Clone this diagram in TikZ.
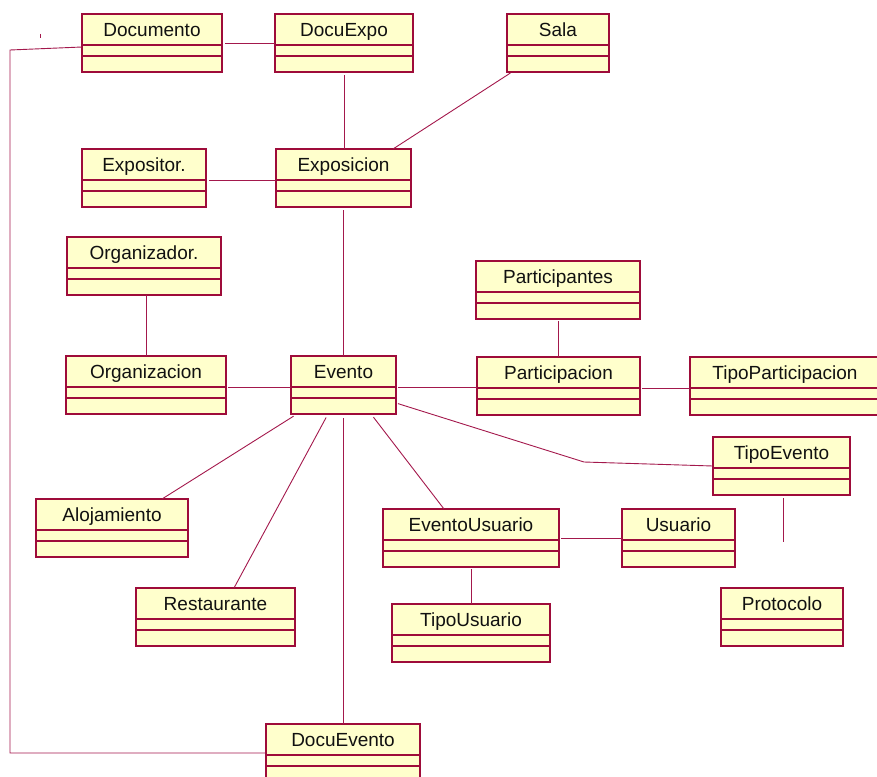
\documentclass[tikz,border=0pt]{standalone}
\usepackage{fontspec}
\setmainfont{Liberation Sans}
\definecolor{clsfill}{HTML}{FFFFCC}
\definecolor{clsborder}{HTML}{9E0C3A}
\definecolor{conncol}{HTML}{A3184C}
\definecolor{txtcol}{HTML}{111111}
\tikzset{
  clsbox/.style={draw=clsborder, fill=clsfill, line width=1.3pt, minimum height=58pt, inner sep=0pt, outer sep=0pt},
  clsline/.style={draw=clsborder, line width=1.1pt},
  clstext/.style={text=txtcol, font=\fontsize{19}{22}\selectfont, inner sep=0pt},
  conn/.style={draw=conncol, line width=0.9pt},
}
\newcommand{\umlcls}[5]{%
  \node[clsbox, minimum width=#4pt, anchor=north west] (#1) at (#2,#3) {};
  \draw[clsline] ([yshift=-31pt]#1.north west) -- ([yshift=-31pt]#1.north east);
  \draw[clsline] ([yshift=-42pt]#1.north west) -- ([yshift=-42pt]#1.north east);
  \node[clstext, anchor=base] (#1-label) at ([yshift=-22.5pt]#1.north) {#5};
}
\begin{document}
\begin{tikzpicture}[x=1pt,y=-1pt]
\useasboundingbox (0,0) rectangle (877,776);
\clip (0,0) rectangle (877,776);
% classes
\umlcls{documento}{82}{14}{140}{Documento}
\umlcls{docuexpo}{275}{14}{138}{DocuExpo}
\umlcls{sala}{507}{14}{102}{Sala}
\umlcls{expositor}{82}{149}{124}{Expositor.}
\umlcls{exposicion}{276}{149}{135}{Exposicion}
\umlcls{organizador}{67}{237}{154}{Organizador.}
\umlcls{organizacion}{66}{356}{160}{Organizacion}
\umlcls{evento}{291}{356}{105}{Evento}
\umlcls{participantes}{476}{261}{164}{Participantes}
\umlcls{participacion}{477}{357}{163}{Participacion}
\umlcls{tipopart}{690}{357}{190}{TipoParticipacion}
\umlcls{tipoevento}{713}{437}{137}{TipoEvento}
\umlcls{alojamiento}{36}{499}{152}{Alojamiento}
\umlcls{eventousuario}{383}{509}{176}{EventoUsuario}
\umlcls{usuario}{622}{509}{113}{Usuario}
\umlcls{restaurante}{136}{588}{159}{Restaurante}
\umlcls{tipousuario}{392}{604}{158}{TipoUsuario}
\umlcls{protocolo}{721}{588}{122}{Protocolo}
\umlcls{docuevento}{266}{724}{154}{DocuEvento}
% connectors
\draw[conn, shorten <=3pt] (documento.east) -- (documento.east -| docuexpo.west);
\coordinate (dl1) at (10,50);
\coordinate (dl2) at (10,753);
\draw[conn] ([yshift=-4pt]documento.west) -- (dl1) -- (dl2) -- (dl2 -| docuevento.west);
\coordinate (tick) at (40,34);
\draw[conn] (tick) -- ++(0,4);
\draw[conn, shorten <=3pt] (docuexpo.south) -- (docuexpo.south |- exposicion.north);
\draw[conn, shorten <=2pt] ([xshift=5pt]sala.south west) -- ([xshift=-18pt]exposicion.north east);
\draw[conn, shorten <=3pt] ([yshift=-2pt]expositor.east) -- ([yshift=-2pt]exposicion.west);
\draw[conn, shorten <=3pt] (exposicion.south) -- (exposicion.south |- evento.north);
\draw[conn] (organizador.south -| organizacion.north) -- (organizacion.north);
\draw[conn, shorten <=2pt] ([yshift=-2pt]organizacion.east) -- ([yshift=-2pt]organizacion.east -| evento.west);
\draw[conn, shorten <=2pt] ([yshift=-2pt]evento.east) -- ([yshift=-2pt]evento.east -| participacion.west);
\draw[conn, shorten <=2pt] (participantes.south) -- (participantes.south |- participacion.north);
\draw[conn, shorten <=2pt] ([yshift=-2pt]participacion.east) -- ([yshift=-2pt]participacion.east -| tipopart.west);
\coordinate (tebend) at (584,462);
\draw[conn, shorten <=2pt] ([yshift=11pt]evento.south east) -- (tebend) -- (tipoevento.west);
\coordinate (teend) at (783,542);
\draw[conn, shorten <=3pt] (tipoevento.south -| teend) -- (teend);
\draw[conn, shorten <=4pt] ([xshift=6pt]evento.south west) -- ([xshift=-26pt]alojamiento.north east);
\draw[conn, shorten <=4pt] ([xshift=37pt]evento.south west) -- ([xshift=18.5pt]restaurante.north);
\draw[conn, shorten <=4pt] (evento.south) -- (evento.south |- docuevento.north);
\draw[conn, shorten <=4pt] ([xshift=27.5pt]evento.south) -- ([xshift=-27pt]eventousuario.north);
\draw[conn, shorten <=2pt] (eventousuario.east) -- (eventousuario.east -| usuario.west);
\draw[conn, shorten <=2pt] (eventousuario.south) -- (eventousuario.south |- tipousuario.north);
\end{tikzpicture}
\end{document}
